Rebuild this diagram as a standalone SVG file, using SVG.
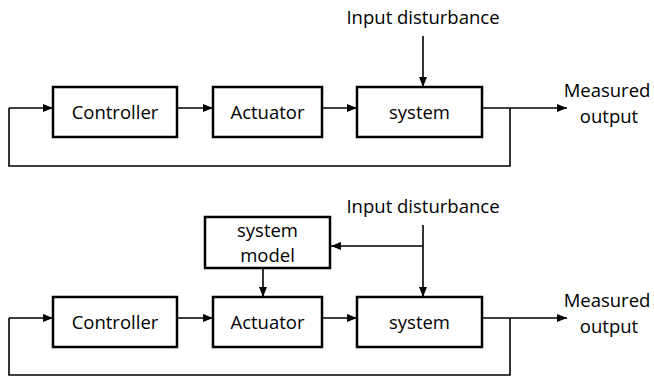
<svg xmlns="http://www.w3.org/2000/svg" width="654" height="376" viewBox="0 0 654 376">
<style>
.box{fill:#fff;stroke:#000;stroke-width:2.5}
.ln{fill:none;stroke:#000;stroke-width:1.6}
.t{font-family:"Open Sans","Liberation Sans",sans-serif;font-size:18.5px;fill:#000;text-anchor:middle}
</style>
<defs>
<marker id="ah" markerWidth="10" markerHeight="8" refX="10" refY="4" orient="auto" markerUnits="userSpaceOnUse">
<path d="M0,0 L10,4 L0,8 Z" fill="#000"/>
</marker>
</defs>
<rect width="654" height="376" fill="#fff"/>
<g id="connectors">
<path class="ln" d="M9,108 V166 H510 V108"/>
<path class="ln" d="M9,108 H53" marker-end="url(#ah)"/>
<path class="ln" d="M177,108 H213" marker-end="url(#ah)"/>
<path class="ln" d="M322,108 H357" marker-end="url(#ah)"/>
<path class="ln" d="M482,108 H567" marker-end="url(#ah)"/>
<path class="ln" d="M423,36 V87" marker-end="url(#ah)"/>
<path class="ln" d="M9,318 V375 H510 V318"/>
<path class="ln" d="M9,318 H53" marker-end="url(#ah)"/>
<path class="ln" d="M177,318 H213" marker-end="url(#ah)"/>
<path class="ln" d="M322,318 H357" marker-end="url(#ah)"/>
<path class="ln" d="M482,318 H567" marker-end="url(#ah)"/>
<path class="ln" d="M423,225 V297" marker-end="url(#ah)"/>
<path class="ln" d="M423,246 H331" marker-end="url(#ah)"/>
<path class="ln" d="M263,268 V297" marker-end="url(#ah)"/>
</g>
<g id="controller1"><rect class="box" x="53" y="87" width="124" height="50"/><text class="t" x="115" y="119">Controller</text></g>
<g id="actuator1"><rect class="box" x="213" y="87" width="109" height="50"/><text class="t" x="267.5" y="119">Actuator</text></g>
<g id="system1"><rect class="box" x="357" y="87" width="125" height="50"/><text class="t" x="419.5" y="119">system</text></g>
<g id="disturbance1"><text class="t" x="423" y="24">Input disturbance</text></g>
<g id="output1"><text class="t" x="607" y="97">Measured</text><text class="t" x="609" y="123">output</text></g>
<g id="model2"><rect class="box" x="205" y="217" width="125" height="51"/><text class="t" x="267.5" y="237">system</text><text class="t" x="267.5" y="262">model</text></g>
<g id="controller2"><rect class="box" x="53" y="297" width="124" height="50"/><text class="t" x="115" y="329">Controller</text></g>
<g id="actuator2"><rect class="box" x="213" y="297" width="109" height="50"/><text class="t" x="267.5" y="329">Actuator</text></g>
<g id="system2"><rect class="box" x="357" y="297" width="125" height="50"/><text class="t" x="419.5" y="329">system</text></g>
<g id="disturbance2"><text class="t" x="423" y="213">Input disturbance</text></g>
<g id="output2"><text class="t" x="607" y="307">Measured</text><text class="t" x="609" y="333">output</text></g>
</svg>
